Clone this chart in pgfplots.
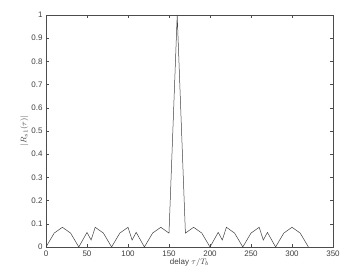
\documentclass[border=0pt]{standalone}
\usepackage{pgfplots}
\pgfplotsset{compat=1.18}
\usepackage{fontspec}
\setmainfont{Liberation Sans}
\begin{document}
\begin{tikzpicture}[x=1pt,y=1pt]
\useasboundingbox (-46pt,-31pt) rectangle (317pt,247pt);
\begin{axis}[
  at={(0,0)}, anchor=south west,
  scale only axis, width=287pt, height=232pt,
  xmin=0, xmax=350, ymin=0, ymax=1,
  xtick={0,50,...,350},
  ytick={0,0.1,...,1},
  yticklabels={0,0.1,0.2,0.3,0.4,0.5,0.6,0.7,0.8,0.9,1},
  tick align=inside,
  tick pos=both,
  major tick length=3pt,
  tick style={black!70, line width=0.4pt},
  axis line style={black!70, line width=0.5pt},
  ticklabel style={font=\fontsize{8}{9}\selectfont, text=black!75},
  label style={font=\fontsize{8}{9}\selectfont, text=black!75},
  /pgf/number format/assume math mode=true,
  xlabel={delay $\tau/T_b$},
  ylabel={$|R_{s1}(\tau)|$},
  xlabel style={yshift=5pt},
  ylabel style={yshift=-4pt},
]
\addplot[black!75, line width=0.5pt] coordinates {
(0,0) (10,0.06) (20,0.085) (30,0.06) (40,0)
(50,0.063) (55,0.03) (60,0.085) (70,0.06) (80,0)
(90,0.06) (100,0.085) (105,0.03) (110,0.063) (120,0)
(130,0.06) (140,0.085) (150,0.06) (160,1) (170,0.06)
(180,0.085) (190,0.06) (200,0) (210,0.063) (215,0.03)
(220,0.085) (230,0.06) (240,0) (250,0.06) (260,0.085)
(265,0.03) (270,0.063) (280,0) (290,0.06) (300,0.085)
(310,0.06) (320,0)
};
\end{axis}
\end{tikzpicture}
\end{document}
